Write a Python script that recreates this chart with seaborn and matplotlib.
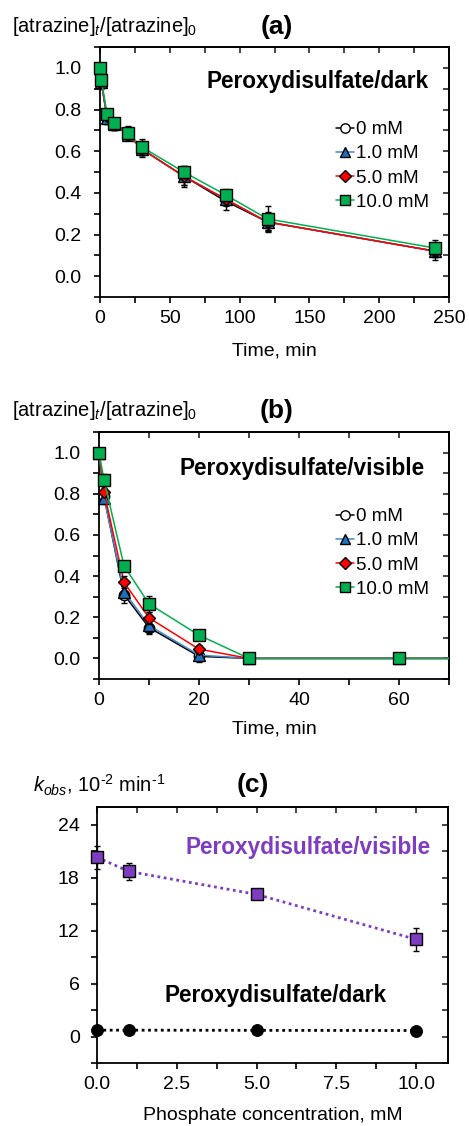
import numpy as np
import pandas as pd
import seaborn as sns
import matplotlib
matplotlib.use("Agg")
import matplotlib.pyplot as plt
from matplotlib.ticker import MultipleLocator, FormatStrFormatter, NullLocator
from matplotlib.lines import Line2D

# ---------------- data ----------------
labels = ["0 mM", "1.0 mM", "5.0 mM", "10.0 mM"]

t_dark = [0, 1, 5, 10, 20, 30, 60, 90, 120, 240]
dark_0 = [1.00, 0.93, 0.76, 0.73, 0.69, 0.61, 0.48, 0.36, 0.26, 0.12]
dark_1 = [1.00, 0.93, 0.76, 0.73, 0.68, 0.61, 0.48, 0.37, 0.26, 0.12]
dark_5 = [1.00, 0.93, 0.77, 0.73, 0.68, 0.61, 0.48, 0.37, 0.26, 0.12]
dark_10 = [1.00, 0.94, 0.78, 0.735, 0.685, 0.62, 0.50, 0.39, 0.275, 0.135]
err_dark_0 = [0.0, 0.03, 0.03, 0.03, 0.03, 0.04, 0.05, 0.04, 0.05, 0.04]
err_dark_1 = [0.0, 0.02, 0.03, 0.03, 0.02, 0.03, 0.04, 0.03, 0.04, 0.03]
err_dark_5 = [0.0, 0.02, 0.02, 0.03, 0.02, 0.03, 0.04, 0.03, 0.04, 0.03]
err_dark_10 = [0.0, 0.02, 0.02, 0.02, 0.02, 0.04, 0.03, 0.03, 0.06, 0.04]

t_vis = [0, 1, 5, 10, 20, 30, 60, 120]
vis_0 = [1.00, 0.79, 0.31, 0.15, 0.010, 0.0, 0.0, 0.0]
vis_1 = [1.00, 0.78, 0.325, 0.16, 0.016, 0.0, 0.0, 0.0]
vis_5 = [1.00, 0.81, 0.37, 0.197, 0.045, 0.0, 0.0, 0.0]
vis_10 = [1.00, 0.867, 0.45, 0.265, 0.113, 0.0, 0.0, 0.0]
err_vis_0 = [0.0, 0.03, 0.04, 0.03, 0.025, 0.0, 0.0, 0.0]
err_vis_1 = [0.0, 0.03, 0.03, 0.03, 0.02, 0.0, 0.0, 0.0]
err_vis_5 = [0.0, 0.02, 0.03, 0.03, 0.02, 0.0, 0.0, 0.0]
err_vis_10 = [0.0, 0.03, 0.02, 0.04, 0.02, 0.0, 0.0, 0.0]

conc = [0.0, 1.0, 5.0, 10.0]
kobs_vis = [20.3, 18.7, 16.1, 11.0]
err_kobs_vis = [1.3, 1.0, 0.5, 1.3]
kobs_dark = [0.72, 0.72, 0.70, 0.68]
err_kobs_dark = [0.05, 0.05, 0.05, 0.05]

# ---------------- style ----------------
sns.set_theme(style="ticks")
plt.rcParams["font.family"] = ["Liberation Sans", "DejaVu Sans"]
plt.rcParams["mathtext.fontset"] = "custom"
plt.rcParams["mathtext.rm"] = "Liberation Sans"
plt.rcParams["mathtext.it"] = "Liberation Sans:italic"
plt.rcParams["axes.linewidth"] = 1.3
plt.rcParams["text.color"] = "black"
plt.rcParams["axes.labelcolor"] = "black"
plt.rcParams["legend.labelcolor"] = "black"

FS = 14
FS_LEG = 13.5
FS_HEAD = 14.5
FS_ANN = 16.3
FS_PANEL = 19
styles = [
    dict(lc="black", mfc="white", marker="o", ms=7.5),
    dict(lc="#3F86CC", mfc="#1F6FBF", marker="^", ms=8.0),
    dict(lc="#FF0000", mfc="#FF0000", marker="D", ms=6.5),
    dict(lc="#00B050", mfc="#00B050", marker="s", ms=8.0),
]
PURPLE = "#7E3CC0"

W, H = 469, 1126
fig = plt.figure(figsize=(W / 100, H / 100), dpi=100)


def px_axes(l, r, t, b):
    return fig.add_axes([l / W, 1 - b / H, (r - l) / W, (b - t) / H])


def frame_ticks(ax, xmaj, xmin, ymaj, ymin, xfmt, yfmt, ypad):
    ax.xaxis.set_major_locator(MultipleLocator(xmaj))
    ax.xaxis.set_minor_locator(MultipleLocator(xmin))
    ax.yaxis.set_major_locator(MultipleLocator(ymaj))
    ax.yaxis.set_minor_locator(MultipleLocator(ymin))
    ax.xaxis.set_major_formatter(FormatStrFormatter(xfmt))
    ax.yaxis.set_major_formatter(FormatStrFormatter(yfmt))
    ax.tick_params(which="both", direction="out", length=4.5, width=1.2,
                   top=False, right=False, labelsize=FS, colors="black")
    ax.tick_params(axis="x", which="major", pad=5)
    ax.tick_params(axis="y", which="major", pad=ypad)
    for s in ax.spines.values():
        s.set_visible(True)
        s.set_color("black")
        s.set_linewidth(1.3)
    top = ax.secondary_xaxis("top")
    top.xaxis.set_major_locator(MultipleLocator(xmin))
    top.xaxis.set_minor_locator(NullLocator())
    top.tick_params(direction="in", length=4.5, width=1.2, labeltop=False)
    right = ax.secondary_yaxis("right")
    right.yaxis.set_major_locator(MultipleLocator(ymin))
    right.yaxis.set_minor_locator(NullLocator())
    right.tick_params(direction="in", length=4.5, width=1.2, labelright=False)


def draw_series(ax, t, ys, errs, xmax, z0=2):
    for i, (y, e) in enumerate(zip(ys, errs)):
        st = styles[i]
        df = pd.DataFrame({"t": t, "y": y, "e": e})
        base = z0 + i
        sns.lineplot(data=df, x="t", y="y", ax=ax, color=st["lc"], linewidth=1.1,
                     errorbar=None, zorder=base)
        inside = df[df["t"] <= xmax]
        ax.errorbar(inside["t"], inside["y"], yerr=inside["e"], fmt="none",
                    ecolor="black", elinewidth=1.0, capsize=2.2, capthick=1.0,
                    zorder=base + 0.1, clip_on=False)
        sns.lineplot(data=inside, x="t", y="y", ax=ax, linestyle="", marker=st["marker"],
                     markersize=st["ms"], markerfacecolor=st["mfc"],
                     markeredgecolor="black", markeredgewidth=1.0, color=st["lc"],
                     errorbar=None, zorder=base + 0.2, clip_on=False)


def add_legend(ax, x_px, y_px):
    handles = [Line2D([], [], color=st["lc"], lw=1.1, marker=st["marker"],
                      markersize=st["ms"] * 0.9, markerfacecolor=st["mfc"],
                      markeredgecolor="black", markeredgewidth=1.0)
               for st in styles]
    ax.legend(handles, labels, loc="upper left",
              bbox_to_anchor=(x_px / W, 1 - y_px / H), bbox_transform=fig.transFigure,
              frameon=False, fontsize=FS_LEG, handlelength=0.95, handletextpad=0.1,
              labelspacing=0.38, borderpad=0, borderaxespad=0, labelcolor="black")


# ---------------- panel (a) ----------------
axA = px_axes(100, 449, 47, 297)
draw_series(axA, t_dark, [dark_0, dark_1, dark_5, dark_10],
            [err_dark_0, err_dark_1, err_dark_5, err_dark_10], 250)
axA.set_xlim(0, 250)
axA.set_ylim(-0.1, 1.1)
frame_ticks(axA, 50, 25, 0.2, 0.1, "%d", "%.1f", 9)
axA.set_xlabel("Time, min", fontsize=FS, labelpad=11, color="black")
axA.set_ylabel("")
axA.text(156, 0.935, "Peroxydisulfate/dark", fontsize=FS_ANN, fontweight="bold",
         ha="center", va="center", color="black")
add_legend(axA, 336, 121)
fig.text(12 / W, 1 - 27 / H, r"[atrazine]$_t$/[atrazine]$_0$", fontsize=FS_HEAD,
         ha="left", va="center", color="black")
fig.text(277 / W, 1 - 27 / H, "(a)", fontsize=FS_PANEL, fontweight="bold",
         ha="center", va="center", color="black")

# ---------------- panel (b) ----------------
axB = px_axes(99, 449, 432, 679)
draw_series(axB, t_vis, [vis_0, vis_1, vis_5, vis_10],
            [err_vis_0, err_vis_1, err_vis_5, err_vis_10], 70)
axB.set_xlim(0, 70)
axB.set_ylim(-0.1, 1.1)
frame_ticks(axB, 20, 10, 0.2, 0.1, "%d", "%.1f", 9)
axB.set_xlabel("Time, min", fontsize=FS, labelpad=8, color="black")
axB.set_ylabel("")
axB.text(40.6, 0.925, "Peroxydisulfate/visible", fontsize=FS_ANN, fontweight="bold",
         ha="center", va="center", color="black")
add_legend(axB, 336, 508)
fig.text(12 / W, 1 - 411 / H, r"[atrazine]$_t$/[atrazine]$_0$", fontsize=FS_HEAD,
         ha="left", va="center", color="black")
fig.text(277 / W, 1 - 411 / H, "(b)", fontsize=FS_PANEL, fontweight="bold",
         ha="center", va="center", color="black")

# ---------------- panel (c) ----------------
axC = px_axes(97, 448, 807, 1063)
dfv = pd.DataFrame({"c": conc, "k": kobs_vis, "e": err_kobs_vis})
dfd = pd.DataFrame({"c": conc, "k": kobs_dark, "e": err_kobs_dark})
sns.lineplot(data=dfv, x="c", y="k", ax=axC, color=PURPLE, linewidth=2.0,
             linestyle=(0, (1, 1.3)), errorbar=None, zorder=2)
axC.errorbar(dfv["c"], dfv["k"], yerr=dfv["e"], fmt="none", ecolor="black",
             elinewidth=1.0, capsize=2.5, capthick=1.0, zorder=3, clip_on=False)
sns.lineplot(data=dfv, x="c", y="k", ax=axC, linestyle="", marker="s", markersize=8.5,
             markerfacecolor=PURPLE, markeredgecolor="black", markeredgewidth=1.0,
             color=PURPLE, errorbar=None, zorder=4, clip_on=False)
sns.lineplot(data=dfd, x="c", y="k", ax=axC, color="black", linewidth=2.0,
             linestyle=(0, (1, 1.3)), errorbar=None, zorder=2)
sns.lineplot(data=dfd, x="c", y="k", ax=axC, linestyle="", marker="o", markersize=8.5,
             markerfacecolor="black", markeredgecolor="black", color="black",
             errorbar=None, zorder=4, clip_on=False)
axC.set_xlim(0, 11)
axC.set_ylim(-3, 26)
frame_ticks(axC, 2.5, 1.25, 6, 3, "%.1f", "%d", 8)
axC.set_xlabel("Phosphate concentration, mM", fontsize=FS, labelpad=10, color="black")
axC.set_ylabel("")
axC.text(6.6, 21.4, "Peroxydisulfate/visible", fontsize=FS_ANN, fontweight="bold",
         ha="center", va="center", color=PURPLE)
axC.text(5.6, 4.6, "Peroxydisulfate/dark", fontsize=FS_ANN, fontweight="bold",
         ha="center", va="center", color="black")
fig.text(33 / W, 1 - 785 / H, r"$k_{obs}$, 10$^{\text{-2}}$ min$^{\text{-1}}$",
         fontsize=FS_HEAD, ha="left", va="center", color="black")
fig.text(253 / W, 1 - 785 / H, "(c)", fontsize=FS_PANEL, fontweight="bold",
         ha="center", va="center", color="black")

fig.savefig("out.png", dpi=100, facecolor="white")
